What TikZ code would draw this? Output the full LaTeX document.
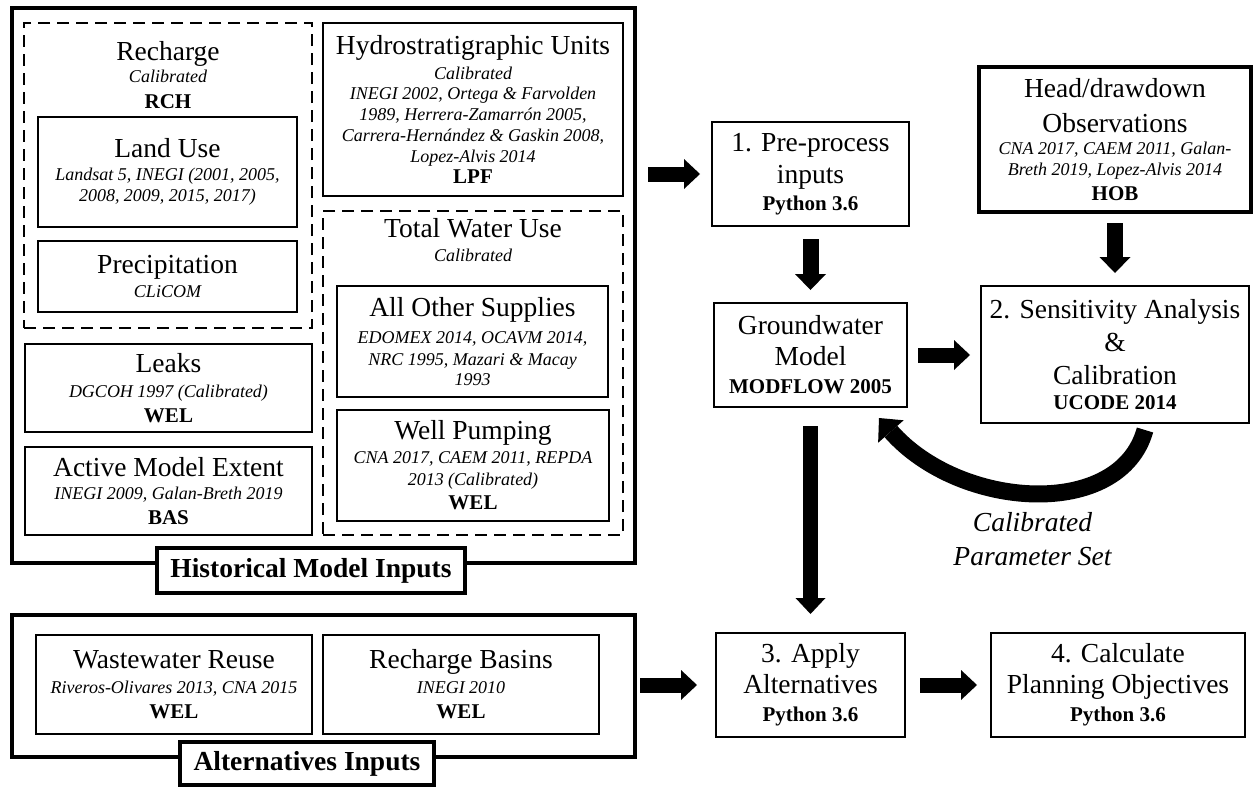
\documentclass[tikz,border=0pt]{standalone}
\usepackage{fontspec}
\setmainfont{Liberation Serif}
\usetikzlibrary{arrows.meta}
\newcommand\Tt{\fontsize{27.5}{31}\selectfont}
\newcommand\It{\fontsize{18}{21}\selectfont\itshape}
\newcommand\Bf{\fontsize{21}{24}\selectfont\bfseries}
\tikzset{
  tb/.style={align=center, inner sep=0pt, outer sep=0pt,
    font={\fontsize{18}{21}\selectfont\baselineskip=0pt\lineskiplimit=-1000pt\lineskip=0pt}},
  ibox/.style={tb, draw, line width=1.6pt},
  obox/.style={tb, draw, line width=4pt},
  lbox/.style={tb, draw, line width=4pt, fill=white},
  dbox/.style={tb, draw, line width=2.3pt, dash pattern=on 12pt off 7pt},
  fat/.style={line width=15pt, -{Triangle[width=30pt,length=16pt,line width=0pt]}},
  fatv/.style={line width=16pt, -{Triangle[width=31pt,length=16pt,line width=0pt]}},
}
\begin{document}
\begin{tikzpicture}[x=1pt,y=-1pt]
\useasboundingbox (0,0) rectangle (1254,787);

% ---------- Historical model inputs ----------
\node[obox, minimum width=623pt, minimum height=555pt] (hist) at (323.5,285.5) {};
\node[dbox, minimum width=288pt, minimum height=305pt] (rchgrp) at (168,175.5) {};
\node[tb] (rchtitle) at (168,74.8) {{\Tt Recharge}\\[22.7pt]{\It Calibrated}\\[25.6pt]{\Bf RCH}};
\node[ibox, minimum width=259pt, minimum height=110pt] (landuse) at (167.5,172)
  {{\Tt Land Use}\\[23.4pt]{\It Landsat 5, INEGI (2001, 2005,}\\[21pt]{\It 2008, 2009, 2015, 2017)}};
\node[ibox, minimum width=259pt, minimum height=71pt] (precip) at (167.5,276.5)
  {{\Tt Precipitation}\\[23.3pt]{\It CLiCOM}};
\node[ibox, minimum width=287pt, minimum height=88pt] (leaks) at (168.5,388)
  {{\Tt Leaks}\\[24.3pt]{\It DGCOH 1997 (Calibrated)}\\[25pt]{\Bf WEL}};
\node[ibox, minimum width=287pt, minimum height=88pt] (active) at (168.5,491)
  {{\Tt Active Model Extent}\\[23.3pt]{\It INEGI 2009, Galan-Breth 2019}\\[24.3pt]{\Bf BAS}};
\node[ibox, minimum width=300pt, minimum height=173pt] (hydro) at (473,109.5)
  {{\Tt Hydrostratigraphic Units}\\[25pt]{\It Calibrated}\\[20pt]{\It INEGI 2002, Ortega \& Farvolden}\\[20.7pt]{\It 1989, Herrera-Zamarrón 2005,}\\[21pt]{\It Carrera-Hernández \& Gaskin 2008,}\\[21pt]{\It Lopez-Alvis 2014}\\[21.6pt]{\Bf LPF}};
\node[dbox, minimum width=300pt, minimum height=324pt] (twugrp) at (473,373) {};
\node[tb] (twutitle) at (473,240) {{\Tt Total Water Use}\\[24.4pt]{\It Calibrated}};
\node[ibox, minimum width=271pt, minimum height=111pt] (allother) at (472.5,341.5)
  {{\Tt All Other Supplies}\\[26.6pt]{\It EDOMEX 2014, OCAVM 2014,}\\[21.7pt]{\It NRC 1995, Mazari \& Macay}\\[20pt]{\It 1993}};
\node[ibox, minimum width=272pt, minimum height=111pt] (wellpump) at (473,465.5)
  {{\Tt Well Pumping}\\[23.3pt]{\It CNA 2017, CAEM 2011, REPDA}\\[22.7pt]{\It 2013 (Calibrated)}\\[24pt]{\Bf WEL}};
\node[lbox, minimum width=308pt, minimum height=45pt] (histlabel) at (311,570.5)
  {\fontsize{27.5}{31}\selectfont\bfseries Historical Model Inputs};

% ---------- Alternatives inputs ----------
\node[obox, minimum width=623pt, minimum height=142pt] (alt) at (323.5,686) {};
\node[ibox, minimum width=276pt, minimum height=99pt] (ww) at (174,684.5)
  {{\Tt Wastewater Reuse}\\[25pt]{\It Riveros-Olivares 2013, CNA 2015}\\[25pt]{\Bf WEL}};
\node[ibox, minimum width=276pt, minimum height=99pt] (rb) at (461,684.5)
  {{\Tt Recharge Basins}\\[25pt]{\It INEGI 2010}\\[25pt]{\Bf WEL}};
\node[lbox, minimum width=254pt, minimum height=43pt] (altlabel) at (307,763.5)
  {\fontsize{27.5}{31}\selectfont\bfseries Alternatives Inputs};

% ---------- Workflow ----------
\node[ibox, minimum width=197pt, minimum height=104pt] (pre) at (810.5,174)
  {{\Tt 1. Pre-process}\\[32pt]{\Tt inputs}\\[27pt]{\Bf Python 3.6}};
\node[ibox, minimum width=193pt, minimum height=104pt] (gw) at (810.5,355)
  {{\Tt Groundwater}\\[31pt]{\Tt Model}\\[28pt]{\Bf MODFLOW 2005}};
\node[obox, minimum width=272pt, minimum height=145pt] (hob) at (1115,139.5)
  {{\Tt Head/drawdown}\\[35pt]{\Tt Observations}\\[22pt]{\It CNA 2017, CAEM 2011, Galan-}\\[21pt]{\It Breth 2019, Lopez-Alvis 2014}\\[25pt]{\Bf HOB}};
\node[ibox, minimum width=268pt, minimum height=137pt] (sens) at (1115,354.5)
  {{\Tt 2. Sensitivity Analysis}\\[33pt]{\Tt \&}\\[33pt]{\Tt Calibration}\\[25pt]{\Bf UCODE 2014}};
\node[ibox, minimum width=189pt, minimum height=104pt] (apply) at (810.5,685)
  {{\Tt 3. Apply}\\[31pt]{\Tt Alternatives}\\[28pt]{\Bf Python 3.6}};
\node[ibox, minimum width=254pt, minimum height=104pt] (calc) at (1118,685)
  {{\Tt 4. Calculate}\\[31pt]{\Tt Planning Objectives}\\[28pt]{\Bf Python 3.6}};
\node[tb] (cps) at (1032.5,539)
  {{\Tt\itshape Calibrated}\\[33.3pt]{\Tt\itshape Parameter Set}};

% ---------- Connectors ----------
\draw[fat, shorten <=13pt, shorten >=12pt] (hist.east |- pre.west) -- (pre.west);
\draw[fatv, shorten <=13pt, shorten >=13pt] (pre.south) -- (gw.north);
\draw[fat, shorten <=11pt, shorten >=11pt] (gw.east) -- (sens.west |- gw.east);
\draw[fatv, shorten <=11pt, shorten >=13pt] (hob.south) -- (sens.north);
\draw[fat, shorten <=19pt, shorten >=19pt] (gw.south) -- (apply.north);
\draw[fat, shorten <=5pt, shorten >=19pt] (alt.east |- apply.west) -- (apply.west);
\draw[fat, shorten <=15pt, shorten >=14pt] (apply.east) -- (calc.west);
\draw[line width=17pt, -{Triangle[width=34pt,length=18pt,line width=0pt]}]
  ([shift={(30,7)}]sens.south) .. controls (1120,520) and (960,510) .. ([shift={(-28,11)}]gw.south east);
\end{tikzpicture}
\end{document}
